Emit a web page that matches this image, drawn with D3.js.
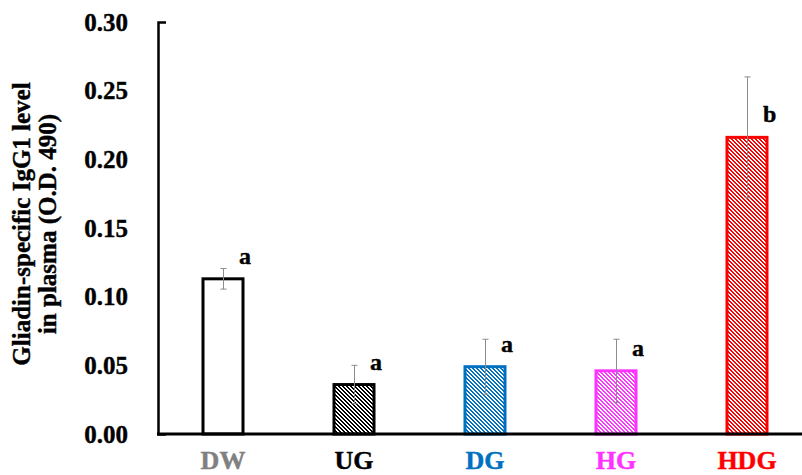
<!DOCTYPE html>
<html>
<head>
<meta charset="utf-8">
<script src="https://cdn.jsdelivr.net/npm/d3@7"></script>
<style>
  html, body { margin: 0; padding: 0; background: #fff; }
  svg { display: block; }
  text { font-family: "Liberation Serif", "Times New Roman", serif; font-weight: bold; }
</style>
</head>
<body>
<svg id="chart" width="802" height="475"></svg>
<script>
// Groups, mean O.D. 490 values, error (±) and significance letters
const categories = ["DW", "UG", "DG", "HG", "HDG"];
const means      = [0.113, 0.036, 0.049, 0.046, 0.216];
const errors     = [0.0075, 0.014, 0.020, 0.023, 0.044];
const letters    = ["a", "a", "a", "a", "b"];
const yTicks     = [0, 0.05, 0.10, 0.15, 0.20, 0.25, 0.30];

// Colours per group: outline / hatch colour, label colour
const strokeColors = ["#000000", "#000000", "#0070C0", "#FF33FF", "#FF0000"];
const labelColors  = ["#808080", "#000000", "#0070C0", "#FF33FF", "#FF0000"];
const hatched      = [false, true, true, true, true];

const svg = d3.select("#chart");

const x = d3.scalePoint().domain(categories).range([157.5, 812.5]).padding(0.5);
const y = d3.scaleLinear().domain([0, 0.30]).range([434, 22]);
const barW = 40;

// Downward-diagonal hatch patterns built from a 4x4 pixel tile
const defs = svg.append("defs");
categories.forEach((c, i) => {
  if (!hatched[i]) return;
  const p = defs.append("pattern")
    .attr("id", "hatch-" + c)
    .attr("patternUnits", "userSpaceOnUse")
    .attr("width", 4).attr("height", 4);
  p.append("rect").attr("width", 4).attr("height", 4).attr("fill", "#fff");
  for (let r = 0; r < 4; r++) {
    for (let k = 0; k < 2; k++) {
      p.append("rect")
        .attr("x", (r + k) % 4).attr("y", r)
        .attr("width", 1).attr("height", 1)
        .attr("fill", strokeColors[i])
        .attr("shape-rendering", "crispEdges");
    }
  }
});

// Bars
svg.append("g").selectAll("rect")
  .data(categories)
  .join("rect")
  .attr("x", d => x(d) - barW / 2)
  .attr("y", (d, i) => y(means[i]))
  .attr("width", barW)
  .attr("height", (d, i) => y(0) - y(means[i]))
  .attr("fill", (d, i) => hatched[i] ? "url(#hatch-" + d + ")" : "#fff")
  .attr("stroke", (d, i) => strokeColors[i])
  .attr("stroke-width", 3);

// Error bars
const eb = svg.append("g").attr("stroke", "#8c8c8c").attr("stroke-width", 1);
categories.forEach((c, i) => {
  const cx = Math.round(x(c)) + 0.5;
  const top = y(means[i] + errors[i]);
  const bot = y(means[i] - errors[i]);
  eb.append("line").attr("x1", cx).attr("x2", cx).attr("y1", top).attr("y2", bot);
  eb.append("line").attr("x1", cx - 3).attr("x2", cx + 3).attr("y1", top).attr("y2", top);
  eb.append("line").attr("x1", cx - 3).attr("x2", cx + 3).attr("y1", bot).attr("y2", bot);
});

// Significance letters
svg.append("g").selectAll("text")
  .data(categories)
  .join("text")
  .attr("x", d => x(d) + 16)
  .attr("y", (d, i) => y(means[i]) - 15)
  .attr("font-size", 24)
  .attr("fill", "#000")
  .attr("stroke", "#000").attr("stroke-width", 0.4)
  .text((d, i) => letters[i]);

// Y axis
const yAxis = d3.axisLeft(y)
  .tickValues(yTicks)
  .tickFormat(d3.format(".2f"))
  .tickSize(0)
  .tickSizeOuter(-8)
  .tickPadding(30);
const gy = svg.append("g").attr("transform", "translate(158,0)").call(yAxis);
gy.select(".domain").attr("stroke", "#000").attr("stroke-width", 2.5);
gy.selectAll("text")
  .attr("font-family", "Liberation Serif, Times New Roman, serif")
  .attr("font-weight", "bold")
  .attr("font-size", 25)
  .attr("fill", "#000")
  .attr("stroke", "#000").attr("stroke-width", 0.4);

// X axis baseline
svg.append("line")
  .attr("x1", 157).attr("x2", 802)
  .attr("y1", y(0)).attr("y2", y(0))
  .attr("stroke", "#000").attr("stroke-width", 3);

// Category labels
svg.append("g").selectAll("text")
  .data(categories)
  .join("text")
  .attr("x", d => x(d))
  .attr("y", 469)
  .attr("text-anchor", "middle")
  .attr("font-size", 26)
  .attr("fill", (d, i) => labelColors[i])
  .attr("stroke", (d, i) => labelColors[i]).attr("stroke-width", 0.4)
  .text(d => d);

// Y axis title
const title = svg.append("text")
  .attr("transform", "translate(0,224) rotate(-90)")
  .attr("text-anchor", "middle")
  .attr("font-size", 25)
  .attr("fill", "#000")
  .attr("stroke", "#000").attr("stroke-width", 0.4);
title.append("tspan").attr("x", 0).attr("y", 30).text("Gliadin-specific IgG1 level");
title.append("tspan").attr("x", 0).attr("y", 56).text("in plasma (O.D. 490)");
</script>
</body>
</html>
